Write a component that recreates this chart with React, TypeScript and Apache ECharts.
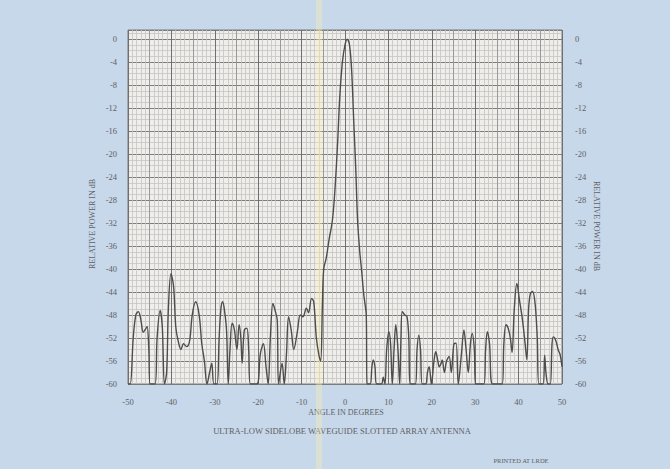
import React, { useEffect, useRef } from "react";
import * as echarts from "echarts";

// Angle (degrees) and relative power (dB)
const angles: number[] = [
  -50, -49.5, -48.8, -48.2, -47.6, -47.0, -46.5, -46.0, -45.6, -45.2, -44.9,
  -43.8, -43.3, -42.6, -42.1, -41.6, -41.1, -40.7, -40.1, -39.5, -39.0, -38.5,
  -37.8, -37.2, -36.5, -35.8, -35.2, -34.4, -33.6, -33.0, -32.4, -31.8, -31.2,
  -30.7, -30.2, -29.5, -29.0, -28.6, -28.2, -27.8, -27.3, -26.9, -26.5, -26.0,
  -25.5, -24.9, -24.4, -24.0, -23.7, -23.2, -22.6, -22.2, -21.8, -20.3, -19.5,
  -18.8, -18.2, -17.7, -17.2, -16.6, -16.0, -15.6, -15.3, -14.5, -14.0, -13.5,
  -13.0, -12.4, -11.8, -11.0, -10.3, -9.7, -8.9, -8.4, -7.7, -7.2, -6.6, -6.0,
  -5.6, -5.2, -4.9, -4.3, -3.7, -2.9, -2.3, -1.7, -1.2, -0.6, 0, 0.5, 1.0, 1.5,
  2.0, 2.5, 2.9, 3.4, 3.8, 4.3, 4.6, 4.9, 5.1, 5.8, 6.2, 6.5, 6.9, 7.3, 8.4, 8.8,
  9.2, 9.6, 10.1, 10.5, 10.9, 11.3, 11.7, 12.2, 12.6, 12.9, 13.2, 13.8, 14.3,
  14.7, 15.0, 16.2, 16.6, 17.0, 17.4, 17.8, 18.6, 19.0, 19.4, 19.9, 20.5, 20.9,
  21.4, 21.7, 22.1, 22.4, 22.9, 23.4, 24.0, 24.5, 25.1, 25.6, 26.1, 26.8, 27.4,
  27.9, 28.4, 28.9, 29.3, 29.8, 30.1, 32.0, 32.4, 32.8, 33.3, 34.0, 36.2, 36.6,
  37.1, 37.6, 38.1, 38.5, 39.0, 39.6, 40.2, 40.9, 41.5, 41.9, 42.3, 42.7, 43.2,
  43.8, 44.3, 44.7, 45.6, 46.0, 46.3, 46.8, 47.3, 47.7, 48.0, 48.6, 49.1, 49.6,
  50.0,
];

const powerDb: number[] = [
  -60, -60, -52, -48, -47.4, -49, -51, -50.5, -50, -54, -60,
  -60, -52, -47.2, -50, -60, -58, -47, -40.8, -43, -50, -52.3,
  -54, -53, -53.5, -52.5, -48, -45.7, -48, -53, -56, -60, -58,
  -56.4, -60, -60, -52, -47, -45.7, -47, -50.6, -60, -54, -49.4,
  -50.5, -54, -49.7, -52, -56.4, -50.6, -50.3, -54, -60, -60, -54.7,
  -53, -57, -60, -52, -46, -47.5, -49, -60, -56.4, -60, -55,
  -48.3, -50.6, -54, -51, -48, -48.3, -46.8, -47.6, -45.1, -45.7, -52, -55,
  -56, -46, -40, -38, -35, -31.5, -26, -18, -10, -4, -1, 0, -0.8, -5,
  -14, -23, -31.5, -37, -40, -44.3, -46, -48, -60, -60, -57, -55.8, -57, -60, -60, -58.8,
  -60, -54, -50.9, -53, -60, -54, -49.7, -54, -60, -52, -47.4, -48, -48.3,
  -52, -60, -60, -54, -51.5, -54, -60, -60, -58, -57, -60, -56, -54.4,
  -56, -57, -56.5, -55.8, -58, -56, -55.2, -58, -53, -52.9, -60, -55, -50.6,
  -54, -58, -53, -51.2, -54, -60, -60, -54, -50.9, -53, -60, -60, -53,
  -49.7, -50.3, -52, -54.5, -47, -42.5, -45.4, -48.9, -53, -55.8, -47, -44.3, -43.9,
  -46, -52, -60, -60, -55, -58, -60, -60, -53, -51.8, -52.5, -54, -55,
  -57,
];

const xTickLabels: number[] = [-50, -40, -30, -20, -10, 0, 10, 20, 30, 40, 50];
const yTickLabels: number[] = [0, -4, -8, -12, -16, -20, -24, -28, -32, -36, -40, -44, -48, -52, -56, -60];

const yAxisTitle = "RELATIVE POWER IN dB";
const xAxisTitle = "ANGLE IN DEGREES";
const chartTitle = "ULTRA-LOW SIDELOBE WAVEGUIDE SLOTTED ARRAY ANTENNA";
const footnote = "PRINTED AT LRDE";

const FONT = "Liberation Serif";
const TEXT = "#5e6066";

export default function App() {
  const ref = useRef<HTMLDivElement>(null);
  useEffect(() => {
    if (!ref.current) return;
    const chart = echarts.init(ref.current, undefined, { renderer: "svg" });
    const data = angles.map((a, i) => [a, powerDb[i]]);
    const yLabel = (v: number) => (yTickLabels.includes(v) ? String(v) : "");
    const xLabel = (v: number) => (xTickLabels.includes(v) ? String(v) : "");
    chart.setOption({
      animation: false,
      backgroundColor: "#c7d8ea",
      grid: {
        left: 128,
        right: 108,
        top: 30,
        bottom: 85,
        show: true,
        backgroundColor: "#efeeea",
        borderColor: "#7a7a7a",
        borderWidth: 1,
      },
      xAxis: {
        type: "value",
        min: -50,
        max: 50,
        interval: 5,
        axisLine: { show: false },
        axisTick: { show: false },
        axisLabel: { formatter: xLabel, margin: 13, fontSize: 8.5, color: TEXT, fontFamily: FONT },
        splitLine: { show: true, lineStyle: { color: ["#6f6f6f", "#9a9a9a"], width: 1 } },
        minorTick: { show: false, splitNumber: 5 },
        minorSplitLine: { show: true, lineStyle: { color: "#c4c4c4", width: 0.8 } },
      },
      yAxis: [
        {
          type: "value",
          min: -60,
          max: 1.6,
          interval: 4,
          position: "left",
          axisLine: { show: false },
          axisTick: { show: false },
          axisLabel: { formatter: yLabel, margin: 11, fontSize: 8.5, color: TEXT, fontFamily: FONT },
          splitLine: { show: true, lineStyle: { color: "#7c7c7c", width: 1 } },
          minorTick: { show: false, splitNumber: 4 },
          minorSplitLine: { show: true, lineStyle: { color: "#c4c4c4", width: 0.8 } },
        },
        {
          type: "value",
          min: -60,
          max: 1.6,
          interval: 4,
          position: "right",
          axisLine: { show: false },
          axisTick: { show: false },
          axisLabel: { formatter: yLabel, margin: 13, fontSize: 8.5, color: TEXT, fontFamily: FONT },
          splitLine: { show: false },
        },
      ],
      series: [
        {
          type: "line",
          data,
          showSymbol: false,
          smooth: 0.35,
          clip: true,
          z: 3,
          lineStyle: { color: "#4d4d4d", width: 1.4 },
        },
      ],
      graphic: [
        {
          type: "rect",
          z: 1,
          silent: true,
          shape: { x: 316, y: 0, width: 6, height: 469 },
          style: { fill: "rgba(250,240,175,0.38)" },
        },
        {
          type: "text",
          x: 92,
          y: 224,
          rotation: Math.PI / 2,
          style: { text: yAxisTitle, align: "center", verticalAlign: "middle", fontSize: 8, fontFamily: FONT, fill: TEXT },
        },
        {
          type: "text",
          x: 596,
          y: 226,
          rotation: -Math.PI / 2,
          style: { text: yAxisTitle, align: "center", verticalAlign: "middle", fontSize: 8, fontFamily: FONT, fill: TEXT },
        },
        {
          type: "text",
          x: 346,
          y: 412,
          style: { text: xAxisTitle, align: "center", verticalAlign: "middle", fontSize: 8, fontFamily: FONT, fill: TEXT },
        },
        {
          type: "text",
          x: 342,
          y: 431,
          style: { text: chartTitle, align: "center", verticalAlign: "middle", fontSize: 8.5, fontFamily: FONT, fill: TEXT },
        },
        {
          type: "text",
          x: 521,
          y: 460,
          style: { text: footnote, align: "center", verticalAlign: "middle", fontSize: 6.5, fontFamily: FONT, fill: TEXT },
        },
      ],
    });
    return () => chart.dispose();
  }, []);
  return (
    <div
      ref={ref}
      style={{ position: "fixed", left: 0, top: 0, width: 670, height: 469 }}
    />
  );
}
